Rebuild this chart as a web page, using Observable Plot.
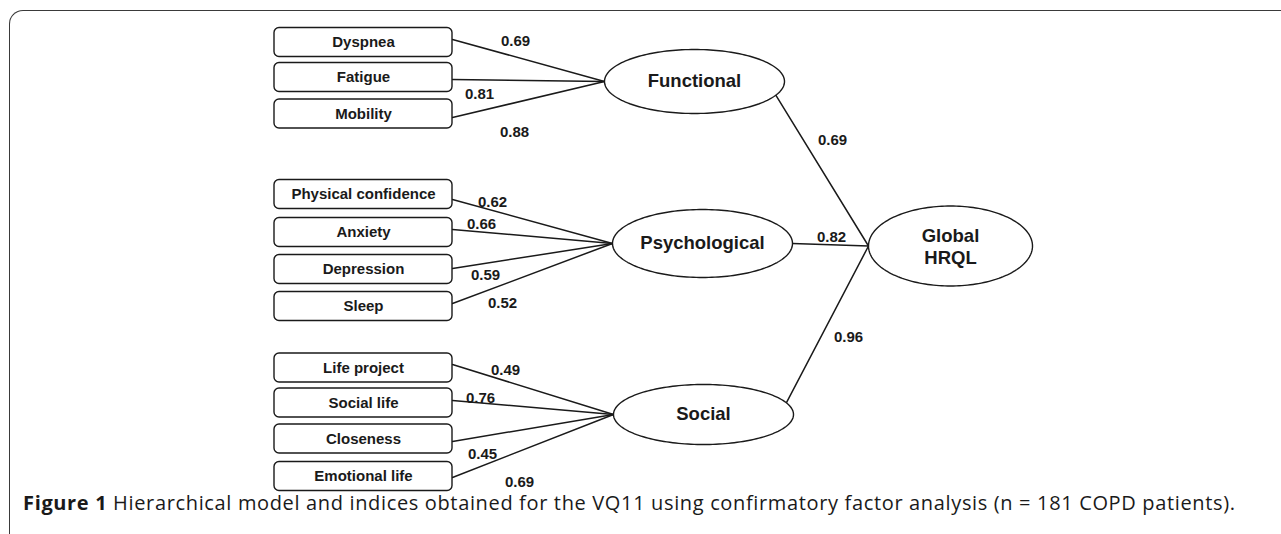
<!DOCTYPE html>
<html>
<head>
<meta charset="utf-8">
<script src="https://cdn.jsdelivr.net/npm/d3@7"></script>
<script src="https://cdn.jsdelivr.net/npm/@observablehq/plot@0.6"></script>
<style>
  html, body { margin: 0; padding: 0; background: #fff; overflow: hidden; }
  #wrap { position: relative; width: 1281px; height: 534px; overflow: hidden; }
  #frame { position: absolute; left: 9px; top: 10px; width: 1300px; height: 560px;
           border-left: 1.5px solid #3a3a3a; border-top: 1.5px solid #3a3a3a;
           border-top-left-radius: 14px; pointer-events: none; box-sizing: border-box; }
  #chart { position: absolute; left: 0; top: 0; }
  #caption { position: absolute; left: 23px; top: 490px; font-family: "Open Sans", "Noto Sans", sans-serif;
             font-size: 20px; letter-spacing: 0.65px; color: #1a1a1a; white-space: nowrap; line-height: 26px; }
  #caption b { font-weight: 700; }
</style>
</head>
<body>
<div id="wrap">
  <div id="chart"></div>
  <div id="caption"></div>
  <div id="frame"></div>
</div>
<script>
// ---------- data ----------
const factors = ["Functional", "Psychological", "Social"];
const factorLoadings = [0.69, 0.82, 0.96];
const globalLabel = ["Global", "HRQL"];
const indicators = ["Dyspnea", "Fatigue", "Mobility",
  "Physical confidence", "Anxiety", "Depression", "Sleep",
  "Life project", "Social life", "Closeness", "Emotional life"];
const indicatorFactor = ["Functional", "Functional", "Functional",
  "Psychological", "Psychological", "Psychological", "Psychological",
  "Social", "Social", "Social", "Social"];
const indicatorLoadings = [0.69, 0.81, 0.88, 0.62, 0.66, 0.59, 0.52, 0.49, 0.76, 0.45, 0.69];
const captionBold = "Figure 1";
const captionText = " Hierarchical model and indices obtained for the VQ11 using confirmatory factor analysis (n = 181 COPD patients).";

// ---------- layout (pixel coordinates in the x/y scales) ----------
const boxX1 = 274, boxX2 = 452, boxH = 29;
const indicatorRowY = [42, 77, 113.5, 194, 232, 269, 306, 367.5, 402.5, 438.5, 476];
const indicatorLineY = [39, 79, 117, 199, 229, 268, 303, 364, 400, 441, 477];
const indicatorLabelX = [515, 479, 514, 492, 481, 485, 502, 505, 480, 482, 519];
const indicatorLabelY = [40.5, 94, 132, 202, 224, 275, 303, 370, 398, 454, 482];
const factorCx = [694, 702, 703], factorCy = [81, 243, 414];
const factorRx = [90, 90, 90], factorRy = [32, 34, 30];
const factorExitAngle = [25.4, 0, -23];
const factorLabelX = [832, 831, 848], factorLabelY = [140, 237, 337];
const globalCx = 950, globalCy = 245.5, globalRx = 82, globalRy = 40;

// ---------- derived tables ----------
const fIndex = Object.fromEntries(factors.map((f, i) => [f, i]));
const boxes = indicators.map((name, i) => ({
  name, y1: indicatorRowY[i] - boxH / 2, y2: indicatorRowY[i] + boxH / 2, y: indicatorRowY[i]
}));
const indicatorPaths = indicators.flatMap((name, i) => {
  const k = fIndex[indicatorFactor[i]];
  return [
    {id: name, x: boxX2, y: indicatorLineY[i]},
    {id: name, x: factorCx[k] - factorRx[k], y: factorCy[k]}
  ];
});
const factorPaths = factors.flatMap((f, k) => {
  const t = factorExitAngle[k] * Math.PI / 180;
  return [
    {id: f, x: factorCx[k] + factorRx[k] * Math.cos(t), y: factorCy[k] + factorRy[k] * Math.sin(t)},
    {id: f, x: globalCx - globalRx, y: globalCy}
  ];
});
function ellipse(id, cx, cy, rx, ry) {
  return d3.range(0, 360, 2).map(a => {
    const t = a * Math.PI / 180;
    return {id, x: cx + rx * Math.cos(t), y: cy + ry * Math.sin(t)};
  });
}
const ellipses = [
  ...factors.flatMap((f, k) => ellipse(f, factorCx[k], factorCy[k], factorRx[k], factorRy[k])),
  ...ellipse("global", globalCx, globalCy, globalRx, globalRy)
];
const indLabels = indicatorLoadings.map((v, i) => ({t: v.toFixed(2), x: indicatorLabelX[i], y: indicatorLabelY[i]}));
const facLabels = factorLoadings.map((v, k) => ({t: v.toFixed(2), x: factorLabelX[k], y: factorLabelY[k]}));
const facNames = factors.map((f, k) => ({t: f, x: factorCx[k], y: factorCy[k]}));

const FONT = "'Liberation Sans', Arial, Helvetica, sans-serif";
const INK = "#1a1a1a";

const chart = Plot.plot({
  width: 1281,
  height: 489,
  margin: 0,
  x: {domain: [0, 1281], range: [0, 1281], axis: null},
  y: {domain: [0, 489], range: [0, 489], axis: null},
  style: {fontFamily: FONT, background: "transparent", overflow: "visible"},
  marks: [
    Plot.line(indicatorPaths, {x: "x", y: "y", z: "id", stroke: INK, strokeWidth: 1.5}),
    Plot.line(factorPaths, {x: "x", y: "y", z: "id", stroke: INK, strokeWidth: 1.5}),
    Plot.line(ellipses, {x: "x", y: "y", z: "id", curve: "linear-closed", fill: "white", stroke: INK, strokeWidth: 1.4}),
    Plot.rect(boxes, {x1: boxX1, x2: boxX2, y1: "y1", y2: "y2", rx: 5, fill: "white", stroke: INK, strokeWidth: 1.4}),
    Plot.text(boxes, {x: (boxX1 + boxX2) / 2, y: "y", text: "name", fontSize: 15, fontWeight: "bold", fill: INK, lineAnchor: "middle"}),
    Plot.text(indLabels, {x: "x", y: "y", text: "t", fontSize: 15, fontWeight: "bold", fill: INK, lineAnchor: "middle"}),
    Plot.text(facLabels, {x: "x", y: "y", text: "t", fontSize: 15, fontWeight: "bold", fill: INK, lineAnchor: "middle"}),
    Plot.text(facNames, {x: "x", y: "y", text: "t", fontSize: 18.5, fontWeight: "bold", fill: INK, lineAnchor: "middle"}),
    Plot.text([globalLabel.join("\n")], {x: globalCx, y: globalCy, text: d => d, fontSize: 18.5, fontWeight: "bold", fill: INK, lineAnchor: "middle", lineHeight: 1.2})
  ]
});
document.getElementById("chart").appendChild(chart);

const cap = document.getElementById("caption");
const b = document.createElement("b");
b.textContent = captionBold;
cap.appendChild(b);
cap.appendChild(document.createTextNode(captionText));
</script>
</body>
</html>
